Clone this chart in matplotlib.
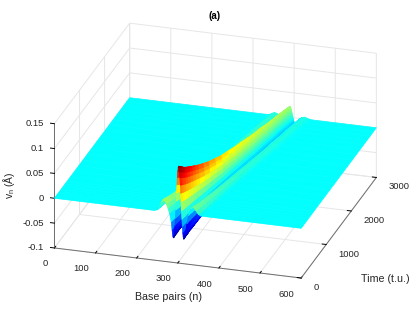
import numpy as np
import matplotlib
matplotlib.use("Agg")
import matplotlib.pyplot as plt
from matplotlib.colors import LinearSegmentedColormap, Normalize
from mpl_toolkits.mplot3d import proj3d

plt.rcParams["font.family"] = ["Liberation Sans", "DejaVu Sans"]
plt.rcParams["mathtext.fontset"] = "custom"
plt.rcParams["mathtext.rm"] = "Liberation Sans"
plt.rcParams["mathtext.it"] = "Liberation Sans"

# values
time_rows = [0, 25, 50, 75, 100, 150, 200, 275, 350, 430, 510, 650, 800, 970, 1140,
             1320, 1500, 1680, 1862, 2030, 2200, 2350, 2490, 2620, 2750, 2880, 3000]
crest_n = [302, 302.5, 303, 304, 305, 306, 308, 310, 312, 314, 317, 321, 325, 330, 335,
           340, 346, 351, 357, 362, 366, 371, 375, 378, 382, 386, 390]
crest_height = [0.095, 0.093, 0.091, 0.089, 0.087, 0.083, 0.080, 0.076, 0.072, 0.068, 0.064, 0.058, 0.052, 0.047, 0.042,
                0.039, 0.036, 0.034, 0.032, 0.030, 0.029, 0.027, 0.026, 0.025, 0.024, 0.023, 0.022]

profile_offset = [-60, -52, -46, -42, -38, -34, -30, -26, -22, -18, -16, -14, -13, -12, -11, -10, -9, -8, -7, -6, -5, -4, -3, -2, -1, 0,
                  1, 2, 3, 4, 5, 6, 7, 8, 9, 10, 11, 12, 13, 14, 16, 20, 24, 30, 36, 42, 48, 54]
profile_share = [0, 0.02, 0.10, 0.19, 0.25, 0.24, 0.17, 0.08, -0.02, -0.20, -0.36, -0.50, -0.53, -0.53, -0.48, -0.40, -0.27, -0.12, 0.06, 0.25, 0.43, 0.60, 0.76, 0.88, 0.97, 1,
                 0.97, 0.88, 0.76, 0.60, 0.43, 0.25, 0.06, -0.12, -0.27, -0.40, -0.48, -0.53, -0.53, -0.50, -0.42, -0.20, -0.02, 0.13, 0.17, 0.10, 0.03, 0]

x_ticks = [0, 100, 200, 300, 400, 500, 600]
y_ticks = [0, 1000, 2000, 3000]
z_ticks = [-0.1, -0.05, 0, 0.05, 0.1, 0.15]
z_tick_labels = ["-0.1", "-0.05", "0", "0.05", "0.1", "0.15"]

t_arr = np.array(time_rows, dtype=float)
offsets = np.array(profile_offset, dtype=float)
crest = np.array(crest_n, dtype=float)

n_mid = crest[:, None] + offsets
n_grid = np.hstack([np.zeros((len(t_arr), 1)), n_mid, np.full((len(t_arr), 1), 600.0)])
t_grid = np.repeat(t_arr[:, None], n_grid.shape[1], axis=1)
z_mid = np.outer(crest_height, profile_share)
z_grid = np.hstack([np.zeros((len(t_arr), 1)), z_mid, np.zeros((len(t_arr), 1))])

# same anchors as the matlab jet map, mpl's jet has no pure cyan
matlab_jet = LinearSegmentedColormap.from_list("matlab_jet", [
    (0, (0, 0, 0.5)),
    (0.125, (0, 0, 1)),
    (0.375, (0, 1, 1)),
    (0.625, (1, 1, 0)),
    (0.875, (1, 0, 0)),
    (1, (0.5, 0, 0)),
])

fig = plt.figure(figsize=(4.15, 3.12), dpi=100)
# axes is bigger than the figure so the surface does not get clipped
ax = fig.add_axes([10 / 415, -44 / 312, 400 / 415, 400 / 312], projection="3d")
ax.set_proj_type("ortho")
ax.view_init(elev=23.8, azim=-73.2)
ax.set_box_aspect((1, 1.01, 0.527), zoom=0.948)

norm = Normalize(vmin=-0.057, vmax=0.095)
colors = matlab_jet(norm(z_grid))
surf = ax.plot_surface(n_grid, t_grid, z_grid, facecolors=colors, rstride=1, cstride=1,
                       shade=False, linewidth=0.5, antialiased=True)
surf._edgecolor3d = surf._facecolor3d

ax.set_xlim(0, 600, view_margin=0)
ax.set_ylim(0, 3000, view_margin=0)
ax.set_zlim(-0.1, 0.15, view_margin=0)
ax.set_xticks(x_ticks)
ax.set_yticks(y_ticks)
ax.set_zticks(z_ticks)
ax.set_xticklabels([])
ax.set_yticklabels([])
ax.set_zticklabels([])

ax.zaxis._axinfo["juggled"] = (1, 2, 0)

for axis in [ax.xaxis, ax.yaxis, ax.zaxis]:
    axis.set_pane_color((1, 1, 1, 0))
    axis.pane.set_edgecolor("#e2e2e2")
    axis.pane.set_linewidth(0.7)
    axis.line.set_color("#6e6e6e")
    axis.line.set_linewidth(0.7)
    axis._axinfo["grid"]["color"] = "#e6e6e6"
    axis._axinfo["grid"]["linewidth"] = 0.7
    axis._axinfo["tick"]["color"] = "#6e6e6e"
    axis._axinfo["tick"]["linewidth"] = {True: 0.7, False: 0.5}
    axis._axinfo["tick"]["inward_factor"] = 0.0
    axis._axinfo["tick"]["outward_factor"] = 0.2


def tick_label(x, y, z, text, dx, dy, ha):
    # labels sit at a fixed pixel offset from the projected tick
    px, py, _ = proj3d.proj_transform(x, y, z, ax.get_proj())
    ax.annotate(text, xy=(px, py), xycoords="data", xytext=(dx * 0.72, -dy * 0.72),
                textcoords="offset points", fontsize=6.8, color="#262626",
                ha=ha, va="center", annotation_clip=False)


for tick in x_ticks:
    tick_label(tick, 0, -0.1, str(tick), -6.5, 16, "right")
for tick in y_ticks:
    tick_label(600, tick, -0.1, str(tick), 12, 9.5, "left")
for tick, text in zip(z_ticks, z_tick_labels):
    tick_label(0, 0, tick, text, -10.5, 0, "right")

fig.text(215 / 415, 1 - 16 / 312, "(a)", fontsize=7, fontweight="bold",
         ha="center", va="center", color="black")
fig.text(168 / 415, 1 - 297 / 312, "Base pairs (n)", fontsize=7.7,
         ha="center", va="center", color="#262626")
fig.text(385 / 415, 1 - 279 / 312, "Time (t.u.)", fontsize=7.7,
         ha="center", va="center", color="#262626")
fig.text(9 / 415, 1 - 185 / 312, r"v$_{\mathrm{n}}$ (Å)", fontsize=7.5, rotation=90,
         ha="center", va="center", color="#262626")

fig.savefig("out.png", dpi=100)
